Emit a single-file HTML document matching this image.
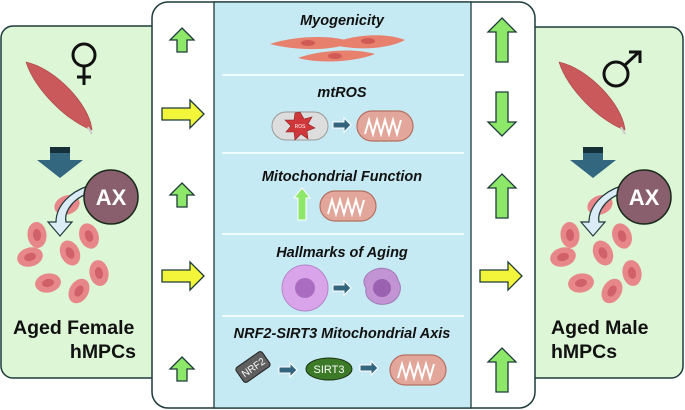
<!DOCTYPE html>
<html><head><meta charset="utf-8"><style>
html,body{margin:0;padding:0;background:#fff;}
svg{display:block;font-family:"Liberation Sans",sans-serif;}
.t{font-weight:bold;font-style:italic;font-size:14.5px;fill:#111;text-anchor:middle;}
.lab{font-weight:bold;font-size:19.5px;fill:#111;}
</style></head><body>
<svg width="685" height="410" viewBox="0 0 685 410" xmlns="http://www.w3.org/2000/svg">
<defs>
<g id="upS"><polygon points="0,-12 12,0 5,0 5,12 -5,12 -5,0 -12,0" fill="#8de86a" stroke="#1e3a3a" stroke-width="1.3"/></g>
<g id="upT"><polygon points="0,-22 14,-8 6,-8 6,22 -6,22 -6,-8 -14,-8" fill="#8de86a" stroke="#1e3a3a" stroke-width="1.3"/></g>
<g id="yR"><polygon points="-21,-6 7,-6 7,-14 21,0 7,14 7,6 -21,6" fill="#f2f53a" stroke="#1e3a3a" stroke-width="1.3"/></g>
<g id="cell"><ellipse rx="9.5" ry="13" fill="#e8878a"/><ellipse rx="4" ry="6" fill="#d0606a"/></g>
<g id="mito"><rect x="-28" y="-15" width="56" height="30" rx="15" fill="#e3a69b" stroke="#b57062" stroke-width="1.2"/><path d="M-20,8 l4,-14 l4,14 l4,-14 l4,14 l4,-14 l4,14 l4,-14 l4,14 l4,-14" fill="none" stroke="#fff" stroke-width="2"/></g>
<g id="sarr"><polygon points="-9,-3 2,-3 2,-7 9,0 2,7 2,3 -9,3" fill="#33657e" stroke="#fff" stroke-width="1"/></g>
<g id="panel">
<path d="M26,62 C55,68 90,105 92,130 C68,122 35,90 26,62Z" fill="#c9595a" stroke="#a84444" stroke-width="0.6"/>
<line x1="88" y1="127" x2="92" y2="134" stroke="#ccc" stroke-width="2"/>
<rect x="50" y="147" width="20" height="6" fill="#16303a"/>
<polygon points="50,153 70,153 70,160 83,160 60,178 37,160 50,160" fill="#336780"/>
<use href="#cell" transform="translate(67,205) rotate(70)"/>
<use href="#cell" transform="translate(37,235) rotate(-5)"/>
<use href="#cell" transform="translate(89,236) rotate(-20)"/>
<use href="#cell" transform="translate(70,253) rotate(-25)"/>
<use href="#cell" transform="translate(30,257) rotate(75)"/>
<use href="#cell" transform="translate(48,283) rotate(80)"/>
<use href="#cell" transform="translate(99,273) rotate(-10)"/>
<use href="#cell" transform="translate(79,291) rotate(30)"/>
<path d="M92,192 C72,198 64,212 66,222 L72,222 L60,236 L48,222 L56,222 C56,206 70,192 88,186Z" fill="#dcecf6" stroke="#1e3a3a" stroke-width="1.2"/>
<circle cx="111" cy="197" r="27" fill="#895f6e" stroke="#1a2a1a" stroke-width="1.5"/>
<text x="111" y="205" font-size="22" font-weight="bold" fill="#fff" text-anchor="middle">AX</text>
</g>
</defs>
<rect x="1" y="26" width="170" height="352" rx="12" fill="#dcf6d6" stroke="#1e3a3a" stroke-width="1.5"/>
<rect x="514" y="27" width="169" height="351" rx="12" fill="#dcf6d6" stroke="#1e3a3a" stroke-width="1.5"/>
<rect x="152" y="2" width="383" height="406" rx="16" fill="#fff" stroke="#1e3a3a" stroke-width="1.5"/>
<rect x="214" y="2" width="257" height="406" fill="#c6eaf3" stroke="#1e3a3a" stroke-width="1.3"/>
<g stroke="#fff" stroke-width="1.5"><line x1="222" y1="75" x2="464" y2="75"/><line x1="222" y1="153" x2="464" y2="153"/><line x1="222" y1="234" x2="464" y2="234"/><line x1="222" y1="316" x2="464" y2="316"/></g>
<use href="#panel"/>
<circle cx="84" cy="55" r="11" fill="none" stroke="#111" stroke-width="3"/>
<line x1="84" y1="66" x2="84" y2="85" stroke="#111" stroke-width="3"/><line x1="77" y1="77" x2="91" y2="77" stroke="#111" stroke-width="3"/>
<text class="lab" x="13" y="334">Aged Female</text>
<text class="lab" x="136" y="358" text-anchor="end">hMPCs</text>
<use href="#panel" transform="translate(533,0)"/>
<circle cx="616" cy="74" r="12" fill="none" stroke="#111" stroke-width="3"/>
<line x1="625" y1="65" x2="639" y2="52" stroke="#111" stroke-width="3"/><polyline points="629,52 640,52 640,63" fill="none" stroke="#111" stroke-width="3"/>
<text class="lab" x="551" y="334">Aged Male</text>
<text class="lab" x="551" y="358">hMPCs</text>
<use href="#upS" x="182" y="40"/><use href="#yR" x="183" y="114"/><use href="#upS" x="182" y="195"/><use href="#yR" x="183" y="276"/><use href="#upS" x="182" y="369"/>
<use href="#upT" x="502" y="40"/><use href="#upT" transform="translate(502,114) rotate(180)"/><use href="#upT" x="502" y="196"/><use href="#yR" x="501" y="276"/><use href="#upT" x="502" y="370"/>
<text class="t" x="342" y="25">Myogenicity</text>
<path d="M270,44 C300,34 340,36 350,42 C340,50 300,52 270,44Z" fill="#e8806e"/>
<path d="M330,44 C360,32 390,34 405,40 C390,48 360,52 330,44Z" fill="#e8806e"/>
<path d="M298,58 C320,50 355,48 375,54 C355,62 320,64 298,58Z" fill="#e8806e"/>
<ellipse cx="308" cy="43" rx="7" ry="3" fill="#d05a55"/><ellipse cx="368" cy="41" rx="7" ry="3" fill="#d05a55"/><ellipse cx="335" cy="56" rx="7" ry="3" fill="#d05a55"/>
<text class="t" x="342" y="97">mtROS</text>
<g transform="translate(300,126)"><rect x="-28" y="-14" width="56" height="28" rx="14" fill="#ddd" stroke="#999"/><polygon points="0,-14 4,-7 12,-9 8,-2 15,2 7,5 8,13 1,8 -5,14 -6,6 -14,6 -9,0 -15,-6 -6,-6 -5,-13" fill="#d0373a" stroke="#8a2020" stroke-width="0.6"/><text x="0" y="2" font-size="5" fill="#fff" text-anchor="middle">ROS</text></g>
<use href="#sarr" x="342" y="125"/>
<use href="#mito" x="385" y="126"/>
<text class="t" x="342" y="181">Mitochondrial Function</text>
<polygon points="302,188 310,198 306,198 306,220 298,220 298,198 294,198" fill="#8de86a" stroke="#fff" stroke-width="1"/>
<use href="#mito" x="348" y="206"/>
<text class="t" x="342" y="257">Hallmarks of Aging</text>
<circle cx="305" cy="288" r="23" fill="#d9a4ea" stroke="#b585c8"/><circle cx="305" cy="288" r="10" fill="#a96cc0"/>
<use href="#sarr" x="342" y="288"/>
<path d="M370,272 C382,264 396,270 398,280 C404,290 398,302 386,304 C374,306 364,298 366,288 C362,282 364,276 370,272Z" fill="#c394d4" stroke="#a07ab5"/><circle cx="382" cy="288" r="9" fill="#9a62b0"/>
<text class="t" x="342" y="338">NRF2-SIRT3 Mitochondrial Axis</text>
<g transform="translate(253,367) rotate(-35)"><rect x="-16" y="-9" width="32" height="18" rx="3" fill="#5f5f5f" stroke="#222"/><text x="0" y="4" font-size="10" fill="#fff" text-anchor="middle">NRF2</text></g>
<use href="#sarr" x="288" y="370"/>
<ellipse cx="329" cy="369" rx="23" ry="11" fill="#3c7a28" stroke="#1a3010"/><text x="329" y="373" font-size="11" fill="#fff" text-anchor="middle">SIRT3</text>
<use href="#sarr" x="369" y="368"/>
<use href="#mito" x="418" y="370"/>
</svg>
</body></html>
